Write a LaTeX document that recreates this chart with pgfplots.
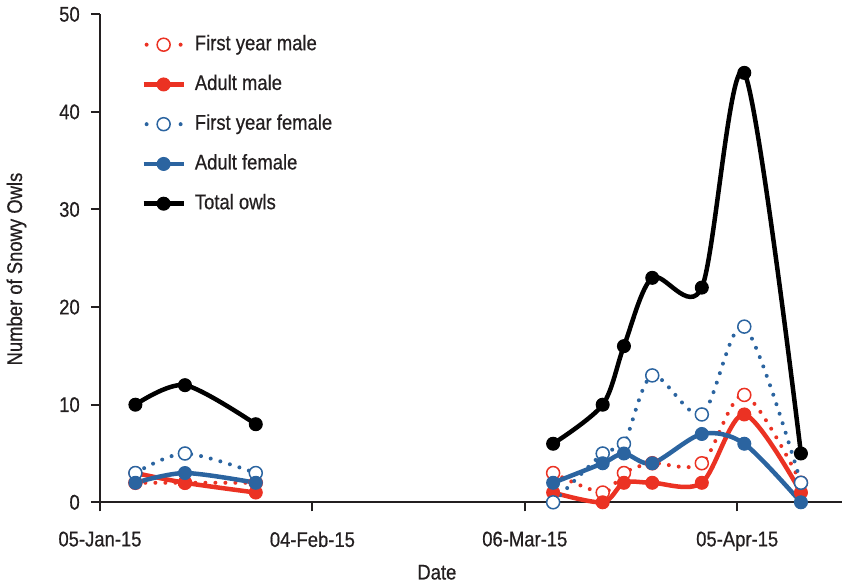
\documentclass[border=0pt]{standalone}
\usepackage{fontspec}
\setmainfont{Liberation Sans}[FakeStretch=0.87, FakeBold=0.6]
\usepackage{pgfplots}
\pgfplotsset{compat=1.18}
\definecolor{myred}{HTML}{EB3223}
\definecolor{myblue}{HTML}{2B64A0}
\definecolor{txt}{HTML}{231F20}
\newcommand{\lblfont}{\fontsize{21.2bp}{25bp}\selectfont}
\begin{document}
\lblfont
\begin{tikzpicture}
\begin{axis}[
  name=ax,
  scale only axis, width=742bp, height=488bp,
  xmin=0, xmax=104.8, ymin=0, ymax=50,
  axis lines*=left,
  axis line style={line width=2bp, color=txt},
  xtick={0,30,60,90},
  xticklabels={05-Jan-15,04-Feb-15,06-Mar-15,05-Apr-15},
  ytick={0,10,20,30,40,50},
  tick align=outside, major tick length=9bp,
  tick style={line width=2bp, color=txt},
  ticklabel style={font=\lblfont, text=txt},
  xticklabel style={yshift=-13bp},
  yticklabel style={xshift=-4bp},
  /pgf/number format/assume math mode=true,
  xlabel={Date}, ylabel={Number of Snowy Owls},
  label style={font=\lblfont, text=txt},
  xlabel style={at={(rel axis cs:0.454,-0.1434)}, anchor=center},
  ylabel style={at={(rel axis cs:-0.1125,0.478)}, anchor=center},
  clip=false,
  legend cell align=left,
  legend style={draw=none, fill=none, at={(rel axis cs:0.0555,0.9576)}, anchor=north west,
    font=\lblfont, text=txt, inner sep=0pt, row sep=20.75bp,
    nodes={inner sep=0pt, text height=15bp, text depth=4bp},
    /tikz/every odd column/.append style={column sep=9bp}},
  legend image code/.code={\draw[mark repeat=2,mark phase=2] plot coordinates {(0bp,0bp) (20bp,0bp) (40bp,0bp)};},
  every axis plot/.append style={smooth, tension=0.5},
  dotstyle/.style={line width=4bp, line cap=round, dash pattern=on 0pt off 10bp,
    mark=*, mark size=6.5bp, mark options={solid, fill=white, line width=1.5bp},
    legend image code/.code={\draw[dash pattern=on 0pt off 34bp] (3bp,0bp) -- (37bp,0bp);
      \draw[only marks] plot coordinates {(20bp,0bp)};}},
  solidstyle/.style={line width=4.5bp, mark=*, mark size=6.5bp, mark options={solid, line width=1bp}},
]
% First year male
\addplot[color=myred, dotstyle] coordinates {(5,2) (12,2) (22,2)};
\addlegendentry{First year male}
\addplot[color=myred, dotstyle, forget plot] coordinates {(64,3) (71,1) (74,3) (78,4) (85,4) (91,11) (99,2)};
% Adult male
\addplot[color=myred, solidstyle] coordinates {(5,3) (12,2) (22,1)};
\addlegendentry{Adult male}
\addplot[color=myred, solidstyle, forget plot] coordinates {(64,1) (71,0) (74,2) (78,2) (85,2) (91,9) (99,1)};
% First year female
\addplot[color=myblue, dotstyle] coordinates {(5,3) (12,5) (22,3)};
\addlegendentry{First year female}
\addplot[color=myblue, dotstyle, forget plot] coordinates {(64,0) (71,5) (74,6) (78,13) (85,9) (91,18) (99,2)};
% Adult female
\addplot[color=myblue, solidstyle] coordinates {(5,2) (12,3) (22,2)};
\addlegendentry{Adult female}
\addplot[color=myblue, solidstyle, forget plot] coordinates {(64,2) (71,4) (74,5) (78,4) (85,7) (91,6) (99,0)};
% Total owls
\addplot[color=black, solidstyle] coordinates {(5,10) (12,12) (22,8)};
\addlegendentry{Total owls}
\addplot[color=black, solidstyle, forget plot] coordinates {(64,6) (71,10) (74,16) (78,23) (85,22) (91,44) (99,5)};
\end{axis}
\pgfresetboundingbox
\path[use as bounding box] ([xshift=-100bp,yshift=-83.7bp]ax.south west) rectangle ([yshift=14.3bp]ax.north east);
\end{tikzpicture}
\end{document}
